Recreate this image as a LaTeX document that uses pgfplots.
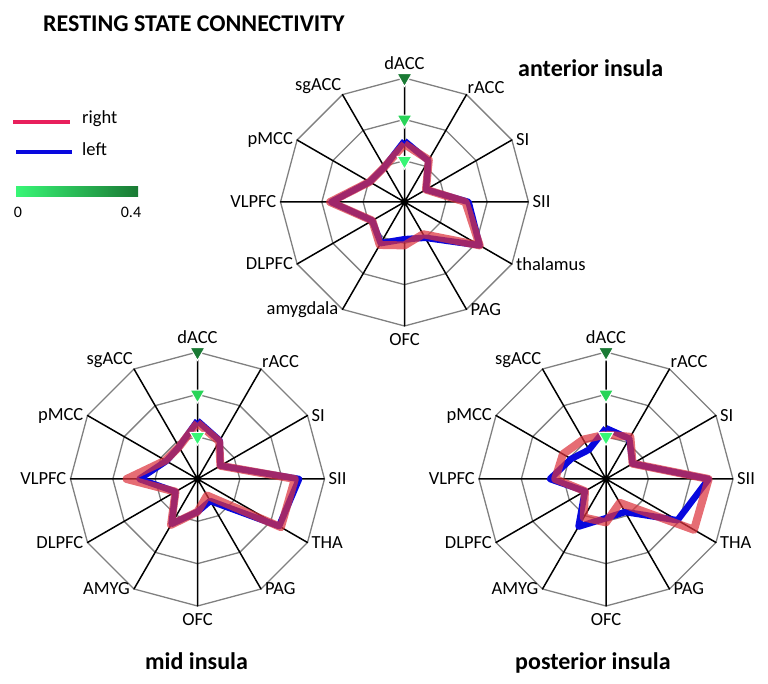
\documentclass[border=0pt]{standalone}
\usepackage{pgfplots}
\pgfplotsset{compat=1.18}
\usepackage{pgfplotstable}
\usepgfplotslibrary{polar}
\usepackage{fontspec}
\setmainfont{Carlito}

\definecolor{rightred}{RGB}{220,52,62}
\definecolor{legred}{RGB}{232,32,92}
\definecolor{leftblue}{RGB}{8,8,222}
\definecolor{gdark}{RGB}{26,122,52}
\definecolor{gmid}{RGB}{40,212,88}
\definecolor{glight}{RGB}{56,246,118}
\definecolor{ringgray}{RGB}{128,128,128}

% angle (deg, clockwise from dACC at top), right, left
\pgfplotstableread{
ang   r      l
90    0.280  0.295
60    0.235  0.230
30    0.120  0.120
0     0.295  0.310
-30   0.420  0.420
-60   0.180  0.200
-90   0.210  0.180
-120  0.240  0.230
-150  0.180  0.180
-180  0.360  0.355
-210  0.195  0.195
-240  0.195  0.195
-270  0.280  0.295
}\anterior

\pgfplotstableread{
ang   r      l
90    0.265  0.275
60    0.205  0.210
30    0.125  0.125
0     0.460  0.480
-30   0.455  0.445
-60   0.090  0.120
-90   0.155  0.155
-120  0.250  0.245
-150  0.120  0.120
-180  0.335  0.275
-210  0.175  0.170
-240  0.175  0.175
-270  0.265  0.275
}\midins

\pgfplotstableread{
ang   r      l
90    0.210  0.240
60    0.230  0.220
30    0.145  0.145
0     0.485  0.485
-30   0.480  0.390
-60   0.130  0.180
-90   0.205  0.185
-120  0.210  0.260
-150  0.115  0.115
-180  0.240  0.265
-210  0.235  0.190
-240  0.215  0.160
-270  0.210  0.240
}\posterior

\pgfplotstableread{
ang a   b   c
0   0.2 0.4 0.6
30  0.2 0.4 0.6
60  0.2 0.4 0.6
90  0.2 0.4 0.6
120 0.2 0.4 0.6
150 0.2 0.4 0.6
180 0.2 0.4 0.6
210 0.2 0.4 0.6
240 0.2 0.4 0.6
270 0.2 0.4 0.6
300 0.2 0.4 0.6
330 0.2 0.4 0.6
360 0.2 0.4 0.6
}\rings

\pgfplotsset{
  radar/.style={scale only axis, width=#1, height=#1, hide axis,
    xmin=0, xmax=360, ymin=0, ymax=0.6, clip=false, anchor=origin},
}
\tikzset{lbl/.style={font=\fontsize{18.5}{22}\selectfont, inner sep=4pt}}

\newcommand{\radarbase}{
  \addplot[ringgray, line width=1.3pt] table[x=ang, y=a]{\rings};
  \addplot[ringgray, line width=1.3pt] table[x=ang, y=b]{\rings};
  \addplot[ringgray, line width=1.3pt] table[x=ang, y=c]{\rings};
  \addplot[black, line width=1.5pt, line join=round] coordinates {
    (0,0.6)(0,0)(30,0.6)(30,0)(60,0.6)(60,0)(90,0.6)(90,0)
    (120,0.6)(120,0)(150,0.6)(150,0)(180,0.6)(180,0)(210,0.6)(210,0)
    (240,0.6)(240,0)(270,0.6)(270,0)(300,0.6)(300,0)(330,0.6)(330,0)};
}
\newcommand{\radardata}[1]{
  \addplot[leftblue, line width=6.5pt, line join=round] table[x=ang, y=l]{#1};
  \addplot[rightred, opacity=0.72, line width=8pt, line join=round] table[x=ang, y=r]{#1};
  \addplot[only marks, mark=triangle*, mark size=8.5pt,
    mark options={rotate=180, draw=white, line width=1pt, fill=gdark}] coordinates {(90,0.6)};
  \addplot[only marks, mark=triangle*, mark size=8.5pt,
    mark options={rotate=180, draw=white, line width=1pt, fill=gmid}] coordinates {(90,0.4)};
  \addplot[only marks, mark=triangle*, mark size=8.5pt,
    mark options={rotate=180, draw=white, line width=1pt, fill=glight}] coordinates {(90,0.2)};
  \addplot[only marks, mark=*, mark size=3pt, black] coordinates {(0,0)};
}
\newcommand{\spokelabels}[2]{
  \node[lbl, anchor=south, inner sep=8pt] at (axis cs:90,0.6) {dACC};
  \node[lbl, anchor=south west, inner sep=1pt] at (axis cs:60,0.6) {rACC};
  \node[lbl, anchor=west] at (axis cs:30,0.6) {SI};
  \node[lbl, anchor=west] at (axis cs:0,0.6) {SII};
  \node[lbl, anchor=west] at (axis cs:-30,0.6) {#1};
  \node[lbl, anchor=west] at (axis cs:-60,0.6) {PAG};
  \node[lbl, anchor=north, inner sep=7pt] at (axis cs:-90,0.6) {OFC};
  \node[lbl, anchor=east] at (axis cs:-120,0.6) {#2};
  \node[lbl, anchor=east] at (axis cs:-150,0.6) {DLPFC};
  \node[lbl, anchor=east] at (axis cs:180,0.6) {VLPFC};
  \node[lbl, anchor=east] at (axis cs:150,0.6) {pMCC};
  \node[lbl, anchor=south east, inner sep=1pt] at (axis cs:120,0.6) {sgACC};
}

\begin{document}
\begin{tikzpicture}
\path[use as bounding box] (0pt,0pt) rectangle (768pt,684pt);

\node[anchor=base west, inner sep=0pt, font=\fontsize{24}{28}\selectfont\bfseries]
  at (43pt,652pt) {RESTING STATE CONNECTIVITY};

% legend
\draw[legred, line width=4.5pt] (13pt,562pt) -- (70pt,562pt);
\node[anchor=west, inner sep=0pt, font=\fontsize{18.5}{22}\selectfont] at (82pt,565pt) {right};
\draw[leftblue, line width=4.5pt] (16pt,532pt) -- (72pt,532pt);
\node[anchor=west, inner sep=0pt, font=\fontsize{18.5}{22}\selectfont] at (82pt,535pt) {left};
\shade[left color=glight, right color=gdark] (16pt,487pt) rectangle (138pt,497pt);
\node[anchor=base, inner sep=0pt, font=\fontsize{16}{20}\selectfont] at (18pt,466pt) {0};
\node[anchor=base, inner sep=0pt, font=\fontsize{16}{20}\selectfont] at (131pt,466pt) {0.4};

\begin{polaraxis}[radar=248pt, at={(404.5pt,482pt)}]
\radarbase
\radardata{\anterior}
\spokelabels{thalamus}{amygdala}
\end{polaraxis}
\node[anchor=base west, inner sep=0pt, font=\fontsize{24}{28}\selectfont\bfseries]
  at (518pt,607pt) {anterior insula};

\begin{polaraxis}[radar=254pt, at={(197.5pt,205pt)}]
\radarbase
\radardata{\midins}
\spokelabels{THA}{AMYG}
\end{polaraxis}
\node[anchor=base west, inner sep=0pt, font=\fontsize{24}{28}\selectfont\bfseries]
  at (145pt,14pt) {mid insula};

\begin{polaraxis}[radar=254pt, at={(606pt,205pt)}]
\radarbase
\radardata{\posterior}
\spokelabels{THA}{AMYG}
\end{polaraxis}
\node[anchor=base west, inner sep=0pt, font=\fontsize{24}{28}\selectfont\bfseries]
  at (515pt,14pt) {posterior insula};
\end{tikzpicture}
\end{document}
